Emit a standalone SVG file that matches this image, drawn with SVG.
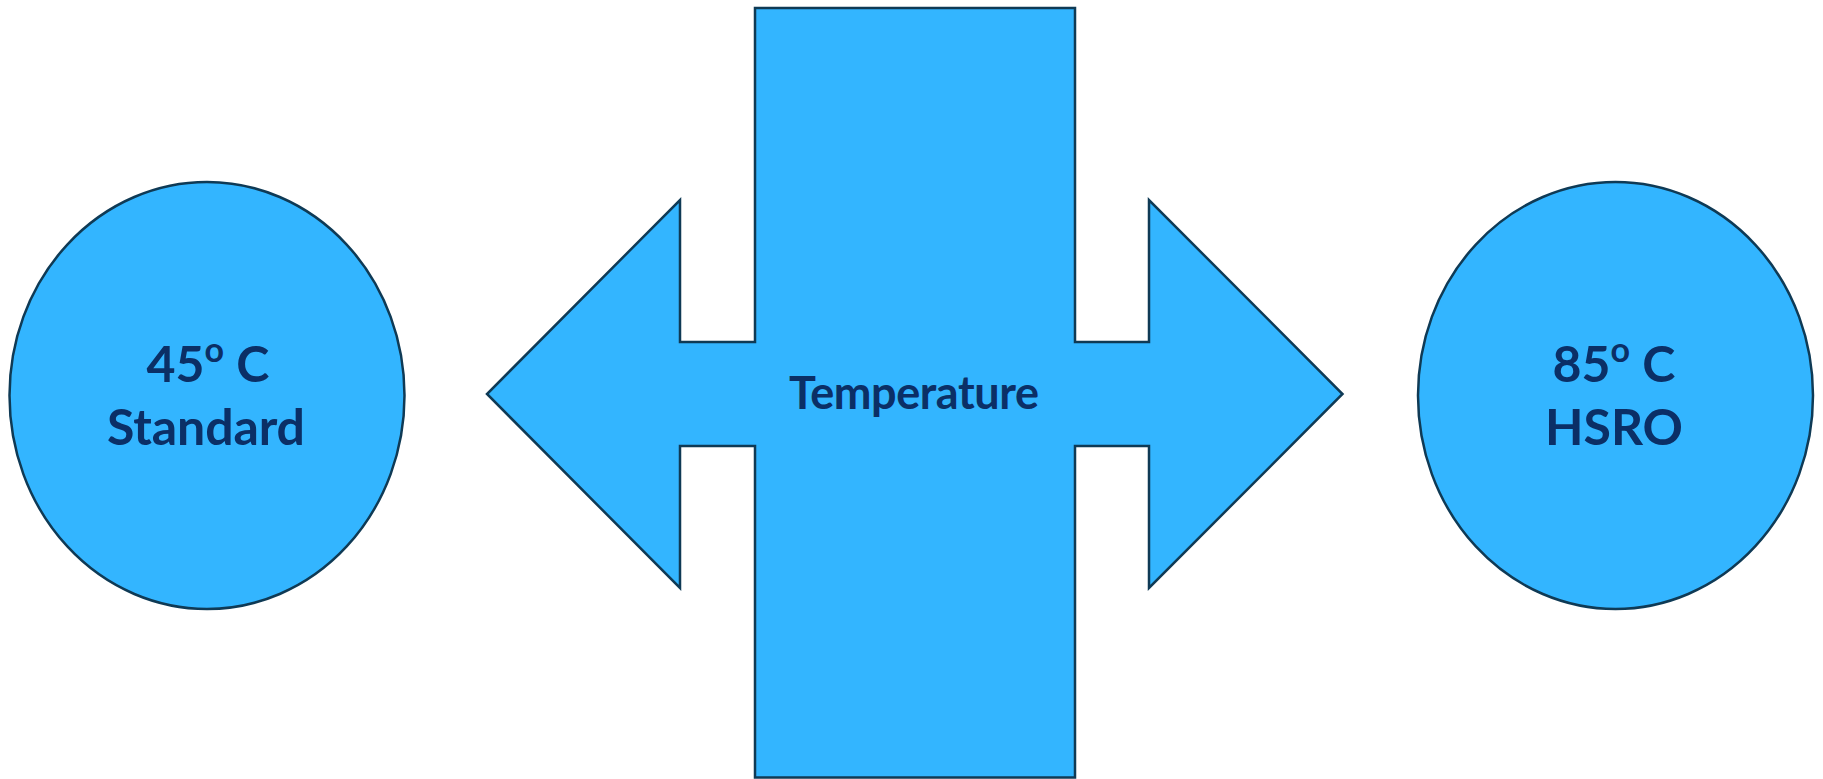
<svg xmlns="http://www.w3.org/2000/svg" width="1823" height="779" viewBox="0 0 1823 779">
  <style>
    .shape { fill: #33B5FF; stroke: #0F3A55; stroke-width: 2.5; stroke-linejoin: miter; }
    .label { font-family: Lato, "Open Sans", "Liberation Sans", sans-serif; font-weight: 700; fill: #0B2F66; text-anchor: middle; }
    .big { font-size: 50px; }
    .sup { font-size: 34px; }
    .mid { font-size: 45px; }
  </style>
  <rect x="0" y="0" width="1823" height="779" fill="#FFFFFF"/>
  <g id="node-temperature">
    <path class="shape" d="M755,8 L1075,8 L1075,342 L1149,342 L1149,200 L1342.5,394 L1149,588 L1149,446 L1075,446 L1075,777.5 L755,777.5 L755,446 L680,446 L680,588 L487,394 L680,200 L680,342 L755,342 Z"/>
    <text class="label mid" x="914" y="409" textLength="250">Temperature</text>
  </g>
  <g id="node-standard">
    <ellipse class="shape" cx="207" cy="395.5" rx="197.5" ry="213.5"/>
    <text class="label big" x="208" y="382">45<tspan class="sup" dy="-20">o</tspan><tspan dy="20"> C</tspan></text>
    <text class="label big" x="206" y="445" textLength="198">Standard</text>
  </g>
  <g id="node-hsro">
    <ellipse class="shape" cx="1615.5" cy="395.5" rx="197.5" ry="213.5"/>
    <text class="label big" x="1614" y="382">85<tspan class="sup" dy="-20">o</tspan><tspan dy="20"> C</tspan></text>
    <text class="label big" x="1614" y="445">HSRO</text>
  </g>
  <g id="connectors"/>
</svg>
